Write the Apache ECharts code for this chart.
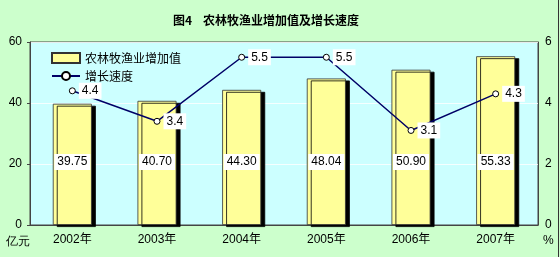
<!DOCTYPE html>
<html><head><meta charset="utf-8">
<script src="https://cdn.jsdelivr.net/npm/echarts@6/dist/echarts.min.js"></script>
<style>html,body{margin:0;padding:0;background:#ccffcc;}#c{width:560px;height:257px;}</style>
</head><body><div id="c"></div>
<script>
var categories = ['2002年','2003年','2004年','2005年','2006年','2007年'];
var valueAdded = [39.75, 40.70, 44.30, 48.04, 50.90, 55.33];
var growthRate = [4.4, 3.4, 5.5, 5.5, 3.1, 4.3];
var leftTicks = [0, 20, 40, 60];
var rightTicks = [0, 2, 4, 6];

var font = '"Liberation Sans", Arial, "Noto Sans CJK SC", sans-serif';
var chart = echarts.init(document.getElementById('c'));
chart.setOption({
  backgroundColor: '#ccffcc',
  animation: false,
  textStyle: {fontFamily: font},
  title: {
    text: '图4    农林牧渔业增加值及增长速度',
    left: 168, top: 9,
    textStyle: {fontSize: 12, fontWeight: 'bold', color: '#000', fontFamily: '"Noto Sans CJK SC", sans-serif'}
  },
  legend: {
    orient: 'vertical', left: 46, top: 47, itemWidth: 28, itemHeight: 10, itemGap: 6,
    textStyle: {fontSize: 12, color: '#000', fontFamily: '"Noto Sans CJK SC", sans-serif'},
    data: [{name: '农林牧渔业增加值', icon: 'rect'}, {name: '增长速度'}]
  },
  grid: {left: 30, right: 22, top: 42, bottom: 32, show: true, backgroundColor: '#ccffff', borderColor: '#444', borderWidth: 1},
  xAxis: {
    type: 'category', data: categories,
    axisLine: {lineStyle: {color: '#444'}},
    axisTick: {inside: true, length: 3, lineStyle: {color: '#444'}},
    axisLabel: {fontSize: 12, color: '#000', margin: 9, fontFamily: font}
  },
  yAxis: [
    {type: 'value', min: leftTicks[0], max: leftTicks[leftTicks.length-1], interval: 20,
     axisLine: {show: true, lineStyle: {color: '#444'}},
     axisTick: {show: true, length: 3, lineStyle: {color: '#444'}},
     axisLabel: {fontSize: 12, color: '#000', margin: 8},
     splitLine: {show: true, lineStyle: {color: 'rgba(255,255,255,0.8)', width: 1}}},
    {type: 'value', min: rightTicks[0], max: rightTicks[rightTicks.length-1], interval: 2,
     axisLine: {show: true, lineStyle: {color: '#444'}},
     axisTick: {show: false},
     axisLabel: {fontSize: 12, color: '#000', margin: 7},
     splitLine: {show: false}}
  ],
  series: [
    {name: '农林牧渔业增加值', type: 'bar', data: valueAdded, barWidth: 39, yAxisIndex: 0,
     itemStyle: {color: '#ffff99', borderColor: '#333', borderWidth: 0.8,
       shadowColor: '#000', shadowOffsetX: 4, shadowOffsetY: 2, shadowBlur: 0},
     label: {show: true, position: 'insideBottom', distance: 55, fontSize: 12, color: '#000',
       backgroundColor: '#fff', padding: [2, 3], formatter: function(p){return p.value.toFixed(2);}}},
    {name: '增长速度', type: 'line', data: growthRate, yAxisIndex: 1,
     symbol: 'circle', symbolSize: 6,
     lineStyle: {color: '#000066', width: 1.5},
     itemStyle: {color: '#fff', borderColor: '#000', borderWidth: 1},
     label: {show: true, position: 'right', distance: 3, fontSize: 12, color: '#000',
       backgroundColor: '#fff', padding: [2, 3], formatter: function(p){return p.value.toFixed(1);}}}
  ],
  graphic: [
    {type: 'text', left: 6, top: 236, style: {text: '亿元', fontSize: 12, fill: '#000', font: '12px "Noto Sans CJK SC"'}},
    {type: 'text', left: 543, top: 235, style: {text: '%', fontSize: 12, fill: '#000', font: '12px "Liberation Sans"'}},
    {type: 'line', shape: {x1: 558.5, y1: 0, x2: 558.5, y2: 257}, style: {stroke: '#333', lineWidth: 1}}
  ]
});
</script></body></html>
